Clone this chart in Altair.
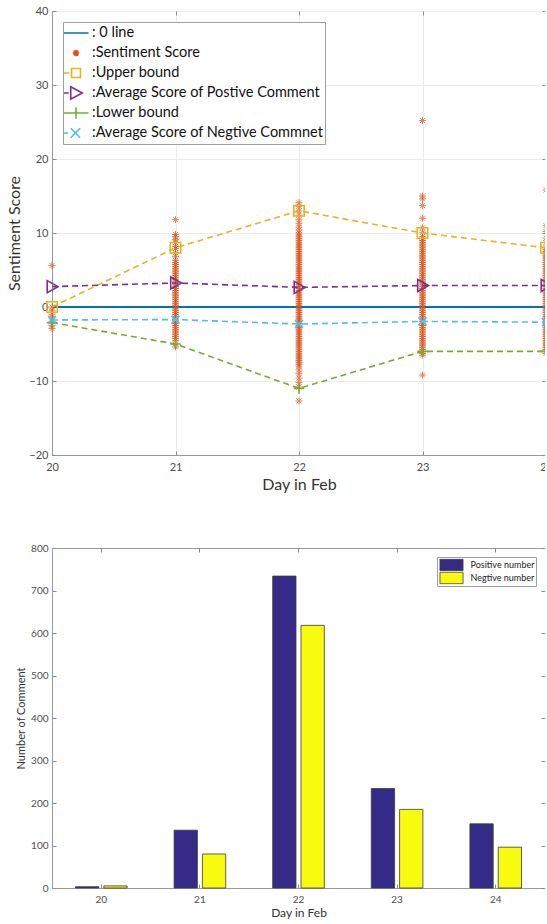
import altair as alt
import pandas as pd

# ---------------- data ----------------
days = [20, 21, 22, 23, 24]
upper_bound = [0, 8, 13, 10, 8]
avg_positive = [2.75, 3.25, 2.65, 2.9, 2.9]
lower_bound = [-2.1, -5, -11, -6, -6]
avg_negative = [-1.75, -1.7, -2.3, -1.95, -2.05]

scores_20 = [5.6, 0, -0.5, -1, -1.5, -2, -2.5, -2.9]
scores_21 = [11.8, 9.8, 9.5, 9.1, 8.7, 8.2, 7.9, 7.3, 6.8, 6.3, 6,
             5.75, 5.5, 5.25, 5, 4.75, 4.5, 4.25, 4, 3.75, 3.5, 3.25, 3, 2.75, 2.5,
             2.25, 2, 1.75, 1.5, 1.25, 1, 0.75, 0.5, 0.25, 0, -0.25, -0.5, -0.75,
             -1, -1.25, -1.5, -1.75, -2, -2.25, -2.5, -2.75, -3, -3.25, -3.5, -3.75,
             -4, -4.25, -4.5, -5, -5.4]
scores_22 = [14.1, 13.6, 13, 12.4, 11.8, 11.3, 10.8, 10.4,
             10, 9.75, 9.5, 9.25, 9, 8.75, 8.5, 8.25, 8, 7.75, 7.5, 7.25, 7, 6.75,
             6.5, 6.25, 6, 5.75, 5.5, 5.25, 5, 4.75, 4.5, 4.25, 4, 3.75, 3.5, 3.25,
             3, 2.75, 2.5, 2.25, 2, 1.75, 1.5, 1.25, 1, 0.75, 0.5, 0.25, 0, -0.25,
             -0.5, -0.75, -1, -1.25, -1.5, -1.75, -2, -2.25, -2.5, -2.75, -3, -3.25,
             -3.5, -3.75, -4, -4.25, -4.5, -4.75, -5, -5.25, -5.5, -5.75, -6, -6.25,
             -6.5, -6.75, -7, -7.25, -7.5, -7.75, -8,
             -8.5, -9, -9.6, -10.2, -10.8, -12.7]
scores_23 = [25.2, 15, 14.6, 13.7, 12, 10.7, 10.1,
             9.5, 9.25, 9, 8.75, 8.5, 8.25, 8, 7.75, 7.5, 7.25, 7, 6.75, 6.5, 6.25,
             6, 5.75, 5.5, 5.25, 5, 4.75, 4.5, 4.25, 4, 3.75, 3.5, 3.25, 3, 2.75,
             2.5, 2.25, 2, 1.75, 1.5, 1.25, 1, 0.75, 0.5, 0.25, 0, -0.25, -0.5,
             -0.75, -1, -1.25, -1.5, -1.75, -2, -2.25, -2.5, -2.75, -3, -3.25, -3.5,
             -3.75, -4, -4.25, -4.5, -4.75, -5, -5.25, -5.5, -5.75, -6, -6.25, -6.5,
             -9.2]
scores_24 = [15.8, 11, 10.2, 9.3, 8.7,
             8, 7.75, 7.5, 7.25, 7, 6.75, 6.5, 6.25, 6, 5.75, 5.5, 5.25, 5, 4.75,
             4.5, 4.25, 4, 3.75, 3.5, 3.25, 3, 2.75, 2.5, 2.25, 2, 1.75, 1.5, 1.25,
             1, 0.75, 0.5, 0.25, 0, -0.25, -0.5, -0.75, -1, -1.25, -1.5, -1.75, -2,
             -2.25, -2.5, -2.75, -3, -3.25, -3.5, -3.75, -4, -4.25, -4.5, -4.75, -5,
             -5.25, -5.5, -5.75, -6, -6.25]

positive_counts = [3, 136, 734, 234, 151]
negative_counts = [5, 80, 618, 185, 96]

score_ticks = [-20, -10, 0, 10, 20, 30, 40]
count_ticks = [0, 100, 200, 300, 400, 500, 600, 700, 800]

legend_labels = [": 0 line", ":Sentiment Score", ":Upper bound",
                 ":Average Score of Postive Comment", ":Lower bound",
                 ":Average Score of Negtive Commnet"]
bar_groups = ["Positive number", "Negtive number"]

# ---------------- styles ----------------
FONT = "Lato"
AXIS_GRAY = "#999"
TICK_GRAY = "#8a8a8a"
INWARD = {"expr": "-4"}
C_ZERO = "#0072BD"
C_SCORE = "#D95319"
C_UPPER = "#EDB120"
C_POS = "#7E2F8E"
C_LOWER = "#77AC30"
C_NEG = "#4DBEEE"

ASTER = "M-1,0H1M0,-1V1M-0.7,-0.7L0.7,0.7M-0.7,0.7L0.7,-0.7"
PLUS = "M-1,0H1M0,-1V1"
XMARK = "M-1,-1L1,1M-1,1L1,-1"
TRI = "M-0.8,-1L1,0L-0.8,1Z"

legend_shapes = [
    "M-1.12,0H1.12",
    "M-0.3,0H0.3M0,-0.3V0.3M-0.21,-0.21L0.21,0.21M-0.21,0.21L0.21,-0.21",
    "M-1.12,0H-0.6M-0.4,-0.4H0.4V0.4H-0.4Z",
    "M-1.12,0H-0.65M-0.47,-0.56L0.56,0L-0.47,0.56Z",
    "M-1.12,0H1.12M0,-0.52V0.52",
    "M-1.12,0H-0.7M-0.47,-0.42L0.37,0.42M-0.47,0.42L0.37,-0.42",
]
legend_colors = [C_ZERO, C_SCORE, C_UPPER, C_POS, C_LOWER, C_NEG]


def mirror_axis(orient, values):
    return alt.Axis(orient=orient, values=values, labels=False, title=None,
                    grid=False, domain=False, ticks=True, tickSize=INWARD,
                    tickColor=TICK_GRAY)


# ---------------- top chart ----------------
score_rows = []
for d, vals in zip(days, [scores_20, scores_21, scores_22, scores_23, scores_24]):
    for v in vals:
        score_rows.append({"day": d, "score": v})
scores_df = pd.DataFrame(score_rows)

xs = alt.Scale(domain=[20, 24], nice=False, zero=False)
ys = alt.Scale(domain=[-20, 40], nice=False, zero=False)
x_axis = alt.Axis(values=days, format="d", title="Day in Feb", grid=True,
                  gridColor="#ebebeb", ticks=True, tickSize=INWARD, tickColor=TICK_GRAY,
                  labelPadding=10, labelFlush=False,
                  labelFontSize=11, titleFontSize=16, titlePadding=4)
y_axis = alt.Axis(values=score_ticks, title="Sentiment Score",
                  grid=True, gridColor="#ebebeb", ticks=True, tickSize=INWARD,
                  tickColor=TICK_GRAY, labelPadding=8,
                  labelFlush=False, labelFontSize=11, titleFontSize=16, titlePadding=6)

legend_df = pd.DataFrame({"label": legend_labels})
top_legend = alt.Legend(title=None, orient="top-left", offset=11,
                        symbolSize=500, symbolStrokeWidth=1.6, symbolOffset=0,
                        symbolOpacity=1, labelFontSize=14.5, labelLimit=500,
                        labelColor="#111", labelOffset=4, clipHeight=20,
                        rowPadding=0, padding=1,
                        fillColor="white", strokeColor="#a0a0a0",
                        symbolFillColor="transparent")
legend_layer = alt.Chart(legend_df).mark_point(opacity=0, filled=False).encode(
    x=alt.value(0), y=alt.value(0),
    color=alt.Color("label:N", sort=legend_labels,
                    scale=alt.Scale(domain=legend_labels, range=legend_colors),
                    legend=top_legend),
    shape=alt.Shape("label:N", sort=legend_labels,
                    scale=alt.Scale(domain=legend_labels, range=legend_shapes),
                    legend=top_legend),
)

zero_df = pd.DataFrame({"day": [20, 24], "value": [0, 0]})
zero_layer = alt.Chart(zero_df).mark_line(color=C_ZERO, strokeWidth=2).encode(
    x=alt.X("day:Q", scale=xs, axis=x_axis),
    y=alt.Y("value:Q", scale=ys, axis=y_axis),
)
# mirrored inward ticks on the top and right edges of the frame
frame_ticks_top = alt.Chart(zero_df).mark_line(opacity=0).encode(
    x=alt.X("day:Q", axis=mirror_axis("top", days)),
    y=alt.Y("value:Q", axis=mirror_axis("right", score_ticks)),
)

X_PLAIN = alt.X("day:Q", axis=None)


def points(df, field, **mark):
    # markers inside the frame are drawn whole; those on the right edge are clipped
    inner = alt.Chart(df).mark_point(filled=False, clip=False, **mark).encode(
        x=X_PLAIN, y=alt.Y(f"{field}:Q", axis=None)).transform_filter("datum.day < 24")
    edge = alt.Chart(df).mark_point(filled=False, clip=True, **mark).encode(
        x=X_PLAIN, y=alt.Y(f"{field}:Q", axis=None)).transform_filter("datum.day >= 24")
    return [inner, edge]


score_layers = points(scores_df, "score", shape=ASTER, color=C_SCORE, size=49,
                      strokeWidth=1)


def series(values, color, shape, size):
    df = pd.DataFrame({"day": days, "value": values})
    line = alt.Chart(df).mark_line(color=color, strokeWidth=1.6, strokeDash=[6, 4]).encode(
        x=X_PLAIN, y=alt.Y("value:Q", axis=None))
    return [line] + points(df, "value", color=color, shape=shape, size=size,
                           strokeWidth=1.6, opacity=1)


layers = [legend_layer, frame_ticks_top, zero_layer] + score_layers
layers += series(upper_bound, C_UPPER, "square", 110)
layers += series(avg_positive, C_POS, TRI, 144)
layers += series(lower_bound, C_LOWER, PLUS, 110)
layers += series(avg_negative, C_NEG, XMARK, 64)

top = alt.layer(*layers).resolve_axis(x="independent", y="independent").properties(
    width=494, height=444)

# ---------------- bottom chart ----------------
bar_df = pd.DataFrame({
    "day": days * 2,
    "group": [bar_groups[0]] * 5 + [bar_groups[1]] * 5,
    "count": positive_counts + negative_counts,
})
bars = alt.Chart(bar_df).mark_bar(stroke="#3a3a3a", strokeWidth=0.8).encode(
    x=alt.X("day:O", scale=alt.Scale(paddingInner=0, paddingOuter=0),
            axis=alt.Axis(title="Day in Feb", labelAngle=0, ticks=True, tickSize=INWARD,
                          tickColor=TICK_GRAY, labelFontSize=10, titleFontSize=12,
                          labelPadding=10, titlePadding=3)),
    xOffset=alt.XOffset("group:N", sort=bar_groups,
                        scale=alt.Scale(domain=bar_groups, paddingInner=0.177, paddingOuter=0.83)),
    y=alt.Y("count:Q", scale=alt.Scale(domain=[0, 800], nice=False),
            axis=alt.Axis(values=count_ticks, title="Number of Comment",
                          grid=False, ticks=True, tickSize=INWARD, tickColor=TICK_GRAY,
                          labelFontSize=10, titleFontSize=11,
                          labelPadding=8, titlePadding=4, labelFlush=False)),
    color=alt.Color("group:N", sort=bar_groups,
                    scale=alt.Scale(domain=bar_groups, range=["#352a87", "#f9fb0e"]),
                    legend=alt.Legend(title=None, orient="top-right", offset=9,
                                      symbolType="M-2.2,-1.1H2.2V1.1H-2.2Z", symbolSize=110,
                                      symbolOffset=7, labelOffset=13, clipHeight=13,
                                      symbolStrokeColor="#3a3a3a", symbolStrokeWidth=0.8,
                                      labelFontSize=9, labelColor="#222", rowPadding=0,
                                      padding=1.5, fillColor="white", strokeColor="#a0a0a0")),
)
bar_frame_ticks = alt.Chart(bar_df).mark_bar(opacity=0).encode(
    x=alt.X("day:O", axis=mirror_axis("top", days)),
    y=alt.Y("count:Q", axis=mirror_axis("right", count_ticks)),
)
bottom = alt.layer(bar_frame_ticks, bars).resolve_axis(
    x="independent", y="independent").properties(width=493, height=340)

chart = alt.vconcat(top, bottom, spacing=93, bounds="flush").resolve_scale(
    color="independent", shape="independent"
).resolve_legend(
    color="independent", shape="independent"
).properties(
    padding={"left": 6, "top": 4, "right": -8, "bottom": 0}
).configure(
    font=FONT,
).configure_view(
    stroke=AXIS_GRAY, strokeWidth=1,
).configure_axis(
    domainColor=AXIS_GRAY, labelColor="#4d4d4d", titleColor="#333",
    labelFont=FONT, titleFont=FONT, titleFontWeight="normal",
).configure_legend(
    labelFont=FONT,
)

chart.save("out.html", embed_options={"renderer": "svg", "actions": False})
